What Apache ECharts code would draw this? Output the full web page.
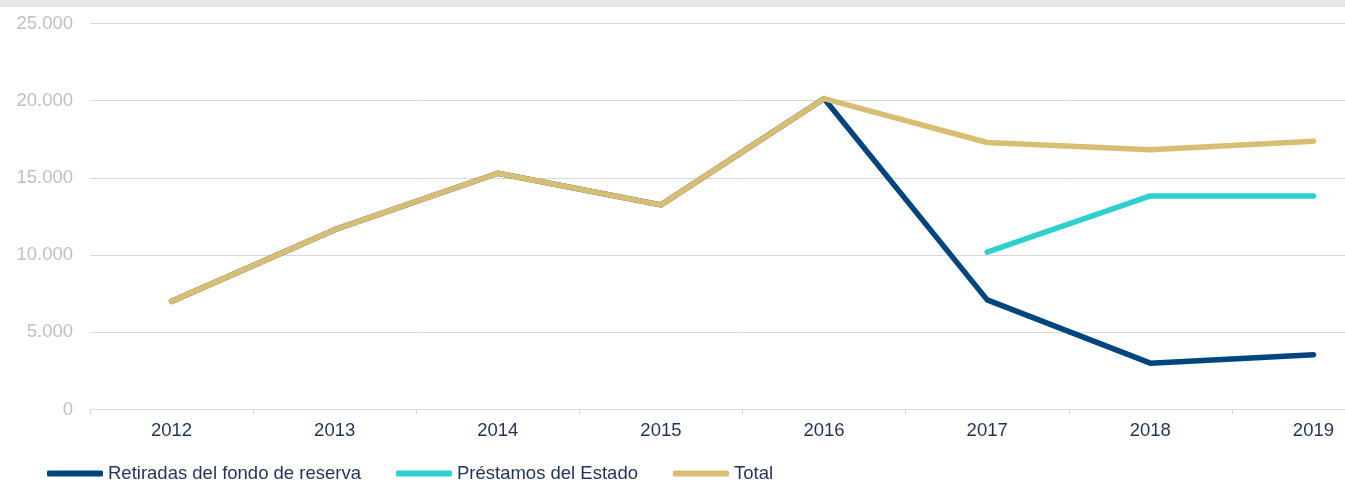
<!DOCTYPE html>
<html><head><meta charset="utf-8">
<script src="https://cdn.jsdelivr.net/npm/echarts@6/dist/echarts.min.js"></script>
<style>html,body{margin:0;padding:0;background:#fff;overflow:hidden;width:1345px;height:488px}#c{width:1395px;height:488px}</style>
</head><body><div id="c"></div>
<script>
const years = ['2012','2013','2014','2015','2016','2017','2018','2019'];
const retiradas = [7003, 11648, 15300, 13250, 20136, 7100, 3000, 3550];
const prestamos = [null, null, null, null, null, 10192, 13830, 13830];
const total = [7003, 11648, 15300, 13250, 20136, 17292, 16830, 17380];
const yTicks = [0, 5000, 10000, 15000, 20000, 25000];

const chart = echarts.init(document.getElementById('c'), null, {renderer:'canvas'});
const font = '"Liberation Sans", Arial, sans-serif';
chart.setOption({
  animation:false,
  graphic:[{type:'rect', left:0, top:0, shape:{width:1395, height:7}, style:{fill:'#E8E8E8'}, silent:true}],
  grid:{left:90, right:0, top:23.5, bottom:78.5, containLabel:false},
  legend:{
    left:42, top:459, itemWidth:56, itemHeight:6, itemGap:35, icon:'roundRect',
    textStyle:{color:'#1F3356', fontSize:18.5, fontFamily:font},
    data:['Retiradas del fondo de reserva','Préstamos del Estado','Total']
  },
  xAxis:{
    type:'category', data:years, boundaryGap:true,
    axisLine:{lineStyle:{color:'#D9D9D9', width:1}},
    axisTick:{show:true, length:5, lineStyle:{color:'#D9D9D9'}},
    axisLabel:{color:'#1F3356', fontSize:18.5, fontFamily:font, margin:12}
  },
  yAxis:{
    type:'value', min:yTicks[0], max:yTicks[yTicks.length-1], interval:5000,
    axisLine:{show:false}, axisTick:{show:false},
    splitLine:{lineStyle:{color:'#D9D9D9', width:1}},
    axisLabel:{color:'#BFBFBF', fontSize:18.5, fontFamily:font, margin:17,
      formatter:v=>String(v).replace(/\B(?=(\d{3})+(?!\d))/g,'.')}
  },
  series:[
    {name:'Retiradas del fondo de reserva', type:'line', data:retiradas, showSymbol:false, symbol:'none',
      lineStyle:{width:5.5, color:'#00457E', cap:'round', join:'round'}, itemStyle:{color:'#00457E'}},
    {name:'Préstamos del Estado', type:'line', data:prestamos, showSymbol:false, symbol:'none',
      lineStyle:{width:5.5, color:'#2ECFCF', cap:'round', join:'round'}, itemStyle:{color:'#2ECFCF'}},
    {name:'Total', type:'line', data:total, showSymbol:false, symbol:'none',
      lineStyle:{width:5.5, color:'#D7BE73', cap:'round', join:'round'}, itemStyle:{color:'#D7BE73'}}
  ]
});
</script></body></html>
